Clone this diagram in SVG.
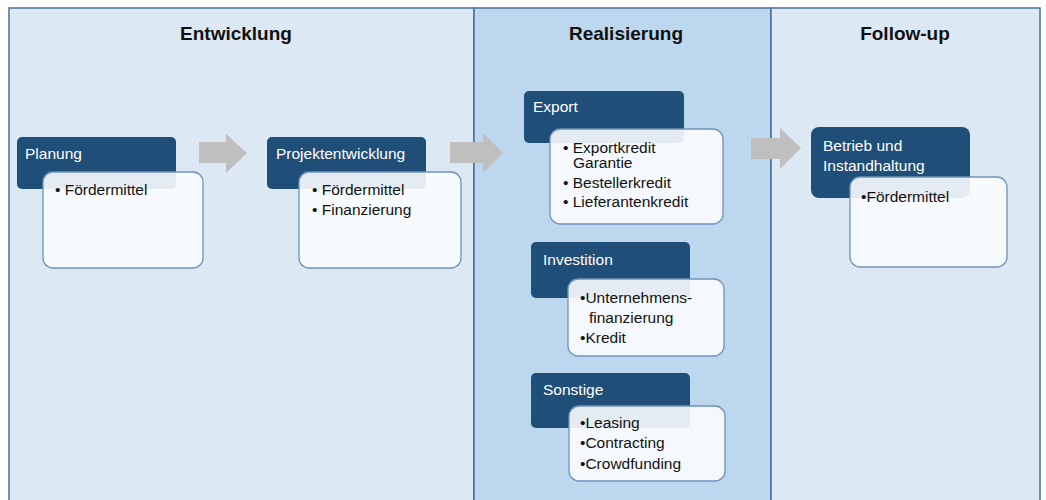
<svg xmlns="http://www.w3.org/2000/svg" width="1046" height="500" viewBox="0 0 1046 500">
<style>
.panel{fill:#dde8f5;stroke:#4a6f9a;stroke-width:1.5}
.mid{fill:#bdd7ee;stroke:#4a6f9a;stroke-width:1.5}
.hdr{font-family:"Liberation Sans",Arial,sans-serif;font-weight:bold;font-size:19px;fill:#111;text-anchor:middle}
.dark{fill:#1f4e79}
.card{fill:#fbfdff;fill-opacity:0.9;stroke:#6f93bb;stroke-width:1.3}
.t{font-family:"Liberation Sans",Arial,sans-serif;font-size:15.5px}
.w{fill:#ffffff}
.b{fill:#111111}
.arrow{fill:#bfbfbf}
</style>
<rect x="0" y="0" width="1046" height="500" fill="#ffffff"/>
<g id="panels">
<rect class="panel" x="9" y="8" width="465" height="500"/>
<rect class="mid" x="474" y="8" width="297" height="500"/>
<rect class="panel" x="771" y="8" width="269" height="500"/>
<text class="hdr" x="236" y="40">Entwicklung</text>
<text class="hdr" x="626" y="40">Realisierung</text>
<text class="hdr" x="905" y="40">Follow-up</text>
</g>
<g id="connectors">
<polygon class="arrow" points="199,142 226,142 226,134 247,153 226,173 226,163 199,163"/>
<polygon class="arrow" points="450,142 483,142 483,133 503,153 483,173 483,163 450,163"/>
<polygon class="arrow" points="751,138 780,138 780,128 801,148 780,169 780,159 751,159"/>
</g>
<g id="planung">
<rect class="dark" x="17" y="137" width="159" height="52" rx="5"/>
<rect class="card" x="43" y="172" width="160" height="96" rx="10"/>
<text class="t w" x="25" y="159">Planung</text>
<text class="t b" x="55" y="195">• Fördermittel</text>
</g>
<g id="projektentwicklung">
<rect class="dark" x="267" y="137" width="159" height="52" rx="5"/>
<rect class="card" x="299" y="172" width="162" height="96" rx="10"/>
<text class="t w" x="276" y="159">Projektentwicklung</text>
<text class="t b" x="312" y="195">• Fördermittel</text>
<text class="t b" x="312" y="215">• Finanzierung</text>
</g>
<g id="export">
<rect class="dark" x="524" y="91" width="160" height="52" rx="5"/>
<rect class="card" x="550" y="129" width="173" height="95" rx="10"/>
<text class="t w" x="533" y="112">Export</text>
<text class="t b" x="563" y="153">• Exportkredit</text>
<text class="t b" x="573" y="168">Garantie</text>
<text class="t b" x="563" y="188">• Bestellerkredit</text>
<text class="t b" x="563" y="207">• Lieferantenkredit</text>
</g>
<g id="investition">
<rect class="dark" x="531" y="242" width="159" height="56" rx="5"/>
<rect class="card" x="568" y="279" width="156" height="77" rx="10"/>
<text class="t w" x="543" y="265">Investition</text>
<text class="t b" x="580" y="303">•Unternehmens-</text>
<text class="t b" x="589" y="323">finanzierung</text>
<text class="t b" x="580" y="343">•Kredit</text>
</g>
<g id="sonstige">
<rect class="dark" x="531" y="373" width="159" height="55" rx="5"/>
<rect class="card" x="569" y="406" width="156" height="75" rx="10"/>
<text class="t w" x="543" y="395">Sonstige</text>
<text class="t b" x="580" y="428">•Leasing</text>
<text class="t b" x="580" y="448">•Contracting</text>
<text class="t b" x="580" y="469">•Crowdfunding</text>
</g>
<g id="betrieb">
<rect class="dark" x="811" y="127" width="159" height="71" rx="8"/>
<rect class="card" x="850" y="177" width="157" height="90" rx="10"/>
<text class="t w" x="823" y="151">Betrieb und</text>
<text class="t w" x="823" y="171">Instandhaltung</text>
<text class="t b" x="861" y="202">•Fördermittel</text>
</g>
</svg>
